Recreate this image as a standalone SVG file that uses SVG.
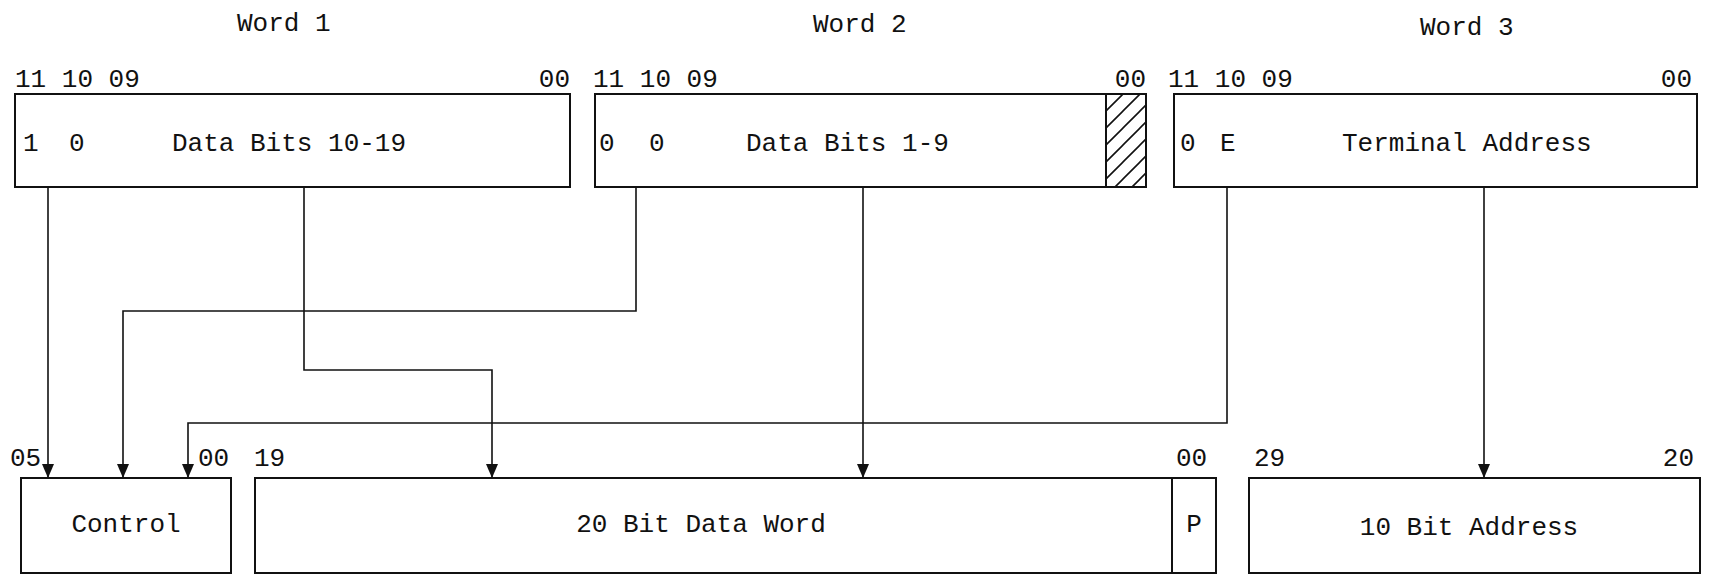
<svg xmlns="http://www.w3.org/2000/svg" width="1712" height="580" viewBox="0 0 1712 580">
<style>
text{font-family:"Liberation Mono","DejaVu Sans Mono",monospace;font-size:26px;fill:#111}
.box{fill:#fff;stroke:#111;stroke-width:2}
.conn{fill:none;stroke:#111;stroke-width:1.6}
.mid{text-anchor:middle}
</style>
<defs>
<marker id="ah" viewBox="0 0 14 12" refX="14" refY="6" markerWidth="14" markerHeight="12" markerUnits="userSpaceOnUse" orient="auto">
<path d="M0,0 L14,6 L0,12 Z" fill="#111"/>
</marker>
<pattern id="hatch" patternUnits="userSpaceOnUse" width="17" height="17" x="1106" y="94">
<path d="M-2,19 L19,-2 M-4,4 L4,-4 M13,21 L21,13" stroke="#111" stroke-width="1.6"/>
</pattern>
</defs>
<rect width="1712" height="580" fill="#fff"/>

<g id="word1">
<text x="237" y="31">Word 1</text>
<text x="15" y="87">11 10 09</text>
<text x="570" y="87" text-anchor="end">00</text>
<rect class="box" x="15" y="94" width="555" height="93"/>
<text x="23" y="151">1</text>
<text x="69" y="151">0</text>
<text x="172" y="151">Data Bits 10-19</text>
</g>

<g id="word2">
<text x="813" y="32">Word 2</text>
<text x="593" y="87">11 10 09</text>
<text x="1146" y="87" text-anchor="end">00</text>
<rect class="box" x="595" y="94" width="551" height="93"/>
<rect x="1106" y="94" width="40" height="93" fill="url(#hatch)" stroke="#111" stroke-width="2"/>
<text x="599" y="151">0</text>
<text x="649" y="151">0</text>
<text x="746" y="151">Data Bits 1-9</text>
</g>

<g id="word3">
<text x="1420" y="35">Word 3</text>
<text x="1168" y="87">11 10 09</text>
<text x="1692" y="87" text-anchor="end">00</text>
<rect class="box" x="1174" y="94" width="523" height="93"/>
<text x="1180" y="151">0</text>
<text x="1220" y="151">E</text>
<text x="1342" y="151">Terminal Address</text>
</g>

<g id="control">
<text x="10" y="466">05</text>
<text x="198" y="466">00</text>
<rect class="box" x="21" y="478" width="210" height="95"/>
<text x="126" y="532" class="mid">Control</text>
</g>

<g id="dataword">
<text x="254" y="466">19</text>
<rect class="box" x="255" y="478" width="917" height="95"/>
<text x="701" y="532" class="mid">20 Bit Data Word</text>
</g>

<g id="parity">
<text x="1176" y="466">00</text>
<rect class="box" x="1172" y="478" width="44" height="95"/>
<text x="1194" y="532" class="mid">P</text>
</g>

<g id="address">
<text x="1254" y="466">29</text>
<text x="1694" y="466" text-anchor="end">20</text>
<rect class="box" x="1249" y="478" width="451" height="95"/>
<text x="1469" y="535" class="mid">10 Bit Address</text>
</g>

<g id="connectors">
<path class="conn" d="M48,187 V478" marker-end="url(#ah)"/>
<path class="conn" d="M304,187 V370 H492 V478" marker-end="url(#ah)"/>
<path class="conn" d="M636,187 V311 H123 V478" marker-end="url(#ah)"/>
<path class="conn" d="M863,187 V478" marker-end="url(#ah)"/>
<path class="conn" d="M1227,187 V423 H188 V478" marker-end="url(#ah)"/>
<path class="conn" d="M1484,187 V478" marker-end="url(#ah)"/>
</g>
</svg>
